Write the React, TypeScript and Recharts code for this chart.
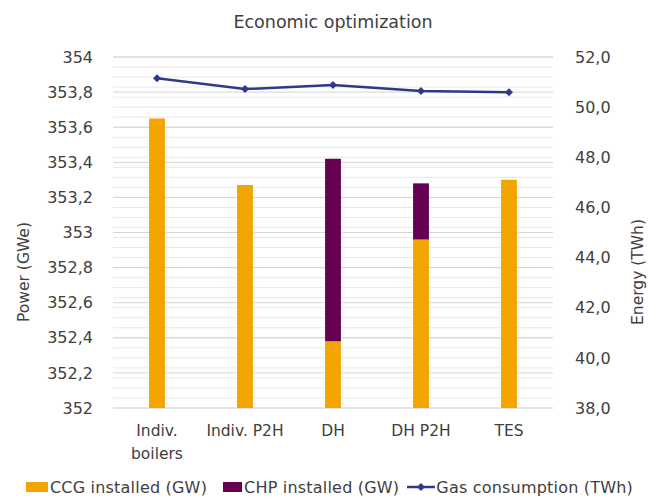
import {
    ComposedChart,
    Bar,
    Line,
    XAxis,
    YAxis,
    CartesianGrid,
    Legend,
    Text,
} from 'recharts';

const categories = ['Indiv. boilers', 'Indiv. P2H', 'DH', 'DH P2H', 'TES'];
const ccgInstalled = [353.65, 353.27, 352.38, 352.96, 353.3];
const chpInstalled = [0, 0, 1.04, 0.32, 0];
const gasConsumption = [51.15, 50.72, 50.88, 50.64, 50.59];

const powerTicks = [352, 352.2, 352.4, 352.6, 352.8, 353, 353.2, 353.4, 353.6, 353.8, 354];
const energyTicks = [38, 40, 42, 44, 46, 48, 50, 52];
// light minor grid of the secondary axis, every 0.4
const minorTicks = Array.from({ length: 36 }, (_, i) => Math.round((38 + i * 0.4) * 10) / 10);

const FONT = '"DejaVu Sans", sans-serif';
const TEXT = '#404040';
const ORANGE = '#F2A500';
const PURPLE = '#660052';
const NAVY = '#2E3A87';

const chartData = categories.map((name, i) => ({
    name,
    ccg: ccgInstalled[i],
    chp: chpInstalled[i],
    gas: gasConsumption[i],
}));

const fmtPower = (v: number) => {
    const r = Math.round(v * 10) / 10;
    return Number.isInteger(r) ? String(r) : r.toFixed(1).replace('.', ',');
};
const fmtEnergy = (v: number) => v.toFixed(1).replace('.', ',');

// minor lines follow the energy axis (38..52)
const minorGrid = ({ yAxis, offset }: any) => {
    const s = yAxis && yAxis.scale;
    if (typeof s === 'function') return minorTicks.map((v) => s(v));
    if (s && typeof s.map === 'function') return minorTicks.map((v) => s.map(v));
    return minorTicks.map((v) => offset.top + ((52 - v) / (52 - 38)) * offset.height);
};

// category labels wrap like Excel does
const CategoryTick = (props: any) => {
    const { x, y, payload } = props;
    return (
        <Text
            x={x}
            y={y + 9}
            width={84}
            textAnchor="middle"
            verticalAnchor="start"
            lineHeight={23}
            fontSize={15.5}
            fontFamily={FONT}
            fill={TEXT}
        >
            {payload.value}
        </Text>
    );
};

const Diamond = (props: any) => {
    const { cx, cy } = props;
    if (cx == null || cy == null) return null;
    const s = 4;
    return <path d={`M${cx},${cy - s}L${cx + s},${cy}L${cx},${cy + s}L${cx - s},${cy}Z`} fill={NAVY} />;
};

const LegendBox = () => (
    <div
        style={{
            height: 26,
            display: 'flex',
            justifyContent: 'center',
            alignItems: 'center',
            fontFamily: FONT,
            fontSize: 16,
            letterSpacing: 0.2,
            color: TEXT,
            whiteSpace: 'nowrap',
            paddingLeft: 10,
        }}
    >
        <span style={{ display: 'inline-block', width: 22, height: 10, background: ORANGE, marginRight: 2 }} />
        <span style={{ marginRight: 16 }}>CCG installed (GW)</span>
        <span style={{ display: 'inline-block', width: 19, height: 10, background: PURPLE, marginRight: 2 }} />
        <span style={{ marginRight: 8 }}>CHP installed (GW)</span>
        <svg width={28} height={10} style={{ marginRight: 1 }}>
            <line x1={0} y1={5} x2={28} y2={5} stroke={NAVY} strokeWidth={2.5} />
            <path d="M14,1L18,5L14,9L10,5Z" fill={NAVY} />
        </svg>
        <span>Gas consumption (TWh)</span>
    </div>
);

export default function App() {
    return (
        <div style={{ position: 'absolute', left: 0, top: 0, width: 649, height: 500, background: '#fff', overflow: 'hidden' }}>
            <div
                style={{
                    position: 'absolute',
                    top: 10,
                    left: 0,
                    width: 666,
                    textAlign: 'center',
                    fontFamily: FONT,
                    fontSize: 17.5,
                    color: TEXT,
                    lineHeight: '24px',
                }}
            >
                Economic optimization
            </div>
            <ComposedChart
                width={649}
                height={500}
                data={chartData}
                margin={{ top: 57, right: 0, bottom: 0, left: 0 }}
                barCategoryGap="59%"
            >
                <CartesianGrid
                    yAxisId="right"
                    vertical={false}
                    stroke="#e8e8e8"
                    horizontalCoordinatesGenerator={minorGrid}
                />
                <CartesianGrid yAxisId="left" vertical={false} stroke="#d4d4d4" />
                <XAxis
                    dataKey="name"
                    height={66}
                    tickLine={false}
                    axisLine={false}
                    interval={0}
                    tick={<CategoryTick />}
                />
                <YAxis
                    yAxisId="left"
                    width={113}
                    domain={[352, 354]}
                    ticks={powerTicks}
                    allowDataOverflow
                    tickFormatter={fmtPower}
                    tickLine={false}
                    axisLine={false}
                    tickMargin={14}
                    tick={{ fontSize: 16, fill: TEXT, fontFamily: FONT }}
                    label={{
                        value: 'Power (GWe)',
                        content: () => (
                            <text
                                x={29}
                                y={272}
                                transform="rotate(-90, 29, 272)"
                                textAnchor="middle"
                                fontSize={15.5}
                                fontFamily={FONT}
                                fill={TEXT}
                            >
                                Power (GWe)
                            </text>
                        ),
                    }}
                />
                <YAxis
                    yAxisId="right"
                    orientation="right"
                    width={96}
                    domain={[38, 52]}
                    ticks={energyTicks}
                    allowDataOverflow
                    tickFormatter={fmtEnergy}
                    tickLine={false}
                    axisLine={false}
                    tickMargin={16}
                    tick={{ fontSize: 16, fill: TEXT, fontFamily: FONT, textAnchor: 'start' }}
                    label={{
                        value: 'Energy (TWh)',
                        content: () => (
                            <text
                                x={643}
                                y={272}
                                transform="rotate(-90, 643, 272)"
                                textAnchor="middle"
                                fontSize={15.5}
                                fontFamily={FONT}
                                fill={TEXT}
                            >
                                Energy (TWh)
                            </text>
                        ),
                    }}
                />
                <Legend verticalAlign="bottom" content={<LegendBox />} />
                <Bar yAxisId="left" dataKey="ccg" name="CCG installed (GW)" stackId="a" fill={ORANGE} isAnimationActive={false} />
                <Bar yAxisId="left" dataKey="chp" name="CHP installed (GW)" stackId="a" fill={PURPLE} isAnimationActive={false} />
                <Line
                    yAxisId="right"
                    dataKey="gas"
                    name="Gas consumption (TWh)"
                    stroke={NAVY}
                    strokeWidth={2.5}
                    dot={<Diamond />}
                    activeDot={false}
                    isAnimationActive={false}
                />
            </ComposedChart>
        </div>
    );
}
